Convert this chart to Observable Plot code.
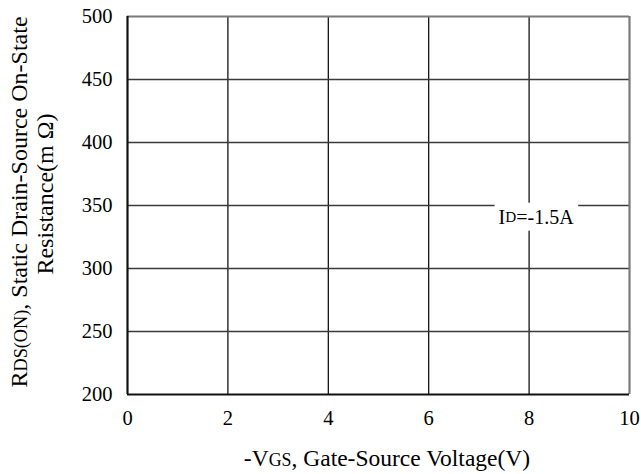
<!DOCTYPE html>
<html><head><meta charset="utf-8">
<script src="https://cdn.jsdelivr.net/npm/d3@7"></script>
<script src="https://cdn.jsdelivr.net/npm/@observablehq/plot@0.6"></script>
<style>
html,body{margin:0;padding:0;background:#fff}
svg{display:block}
svg, svg text{font-family:'Liberation Serif','Times New Roman',serif !important;}
</style>
</head><body><div id="chart"></div>
<script>
// Data
const xTicks = [0, 2, 4, 6, 8, 10];
const yTicks = [200, 250, 300, 350, 400, 450, 500];
const xDomain = [0, 10];
const yDomain = [200, 500];
const annotX = [8.15];
const annotY = [340];
const annotParts = [["I", false], ["D", true], ["=-1.5A", false]];
const xLabelParts = [["-V", false], ["GS", true], [", Gate-Source Voltage(V)", false]];
const yLabel1Parts = [["R", false], ["DS(ON)", true], [", Static Drain-Source On-State", false]];
const yLabel2Parts = [["Resistance(m Ω)", false]];

const FONT = "'Liberation Serif', 'Times New Roman', serif";

const plot = Plot.plot({
  width: 641, height: 474,
  marginLeft: 127, marginRight: 12, marginTop: 16, marginBottom: 80,
  style: {fontFamily: FONT, fontSize: "20.5px", color: "#000", background: "#fff"},
  x: {domain: xDomain, ticks: xTicks},
  y: {domain: yDomain, ticks: yTicks},
  marks: [
    Plot.ruleX(xTicks.slice(1, -1), {stroke: "#000", strokeWidth: 1.2}),
    Plot.ruleY(yTicks.slice(1, -1), {stroke: "#3a3a3a", strokeWidth: 1.4}),
    Plot.ruleX([xDomain[1]], {stroke: "#7a7a7a", strokeWidth: 2.2}),
    Plot.ruleY([yDomain[1]], {stroke: "#7a7a7a", strokeWidth: 2.2}),
    Plot.ruleX([xDomain[0]], {stroke: "#111", strokeWidth: 2.2}),
    Plot.ruleY([yDomain[0]], {stroke: "#111", strokeWidth: 2.2}),
    Plot.axisX({ticks: xTicks, tickSize: 0, tickPadding: 16, label: null, fontSize: 20.5, fontFamily: FONT}),
    Plot.axisY({ticks: yTicks, tickSize: 0, tickPadding: 15, label: null, fontSize: 20.5, fontFamily: FONT})
  ]
});
document.getElementById("chart").appendChild(plot);

const svg = d3.select(plot);
const sx = plot.scale("x"), sy = plot.scale("y");

function addText(g, parts, size, attrs) {
  const t = g.append("text").attr("font-family", FONT).attr("font-size", size).attr("fill", "#000");
  for (const [k, v] of Object.entries(attrs)) t.attr(k, v);
  for (const [s, small] of parts) {
    t.append("tspan").attr("font-size", small ? size * 0.76 : size).text(s);
  }
  return t;
}

// annotation with white box
const ag = svg.append("g");
const ax = sx.apply(annotX[0]), ay = sy.apply(annotY[0]);
const at = addText(ag, annotParts, 20, {x: ax, y: ay + 1.5, "text-anchor": "middle", "dominant-baseline": "middle"});
const bb = at.node().getBBox();
ag.insert("rect", "text").attr("x", bb.x - 4).attr("y", bb.y - 3)
  .attr("width", bb.width + 8).attr("height", bb.height + 6).attr("fill", "#fff");

// x label
addText(svg, xLabelParts, 23.5, {x: 387, y: 466, "text-anchor": "middle"});
// y labels (rotated)
addText(svg, yLabel1Parts, 24, {transform: "translate(27,202) rotate(-90)", "text-anchor": "middle"});
addText(svg, yLabel2Parts, 24, {transform: "translate(53,194) rotate(-90)", "text-anchor": "middle"});
</script>
</body></html>
